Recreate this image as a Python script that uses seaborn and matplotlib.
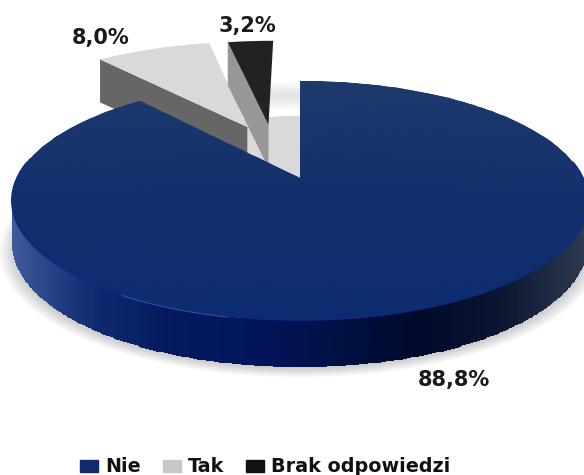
import matplotlib.pyplot as plt
from matplotlib.patches import Rectangle
from matplotlib.transforms import Affine2D, Transform
import numpy as np
import seaborn as sns

labels = ["Nie", "Tak", "Brak odpowiedzi"]
values = [88.8, 8.0, 3.2]
top_colors = ["#16306c", "#d9d9d9", "#222222"]
side_colors = ["#0a1f5c", "#666666", "#979797"]
legend_colors = ["#12296b", "#c8c8c8", "#111111"]
label_positions = [(454, 380), (101, 38), (247, 26)]

W, H = 584, 475
APEX_X, APEX_Y = 300, 178
C, A, K = 283, 115.3, 0.188
DEPTH = 47


def project(xy):
    xy = np.asarray(xy, dtype=float)
    w = 1 + K * xy[..., 1]
    return np.stack([APEX_X + C * xy[..., 0] / w, APEX_Y - A * xy[..., 1] / w], axis=-1)


class Perspective(Transform):
    input_dims = 2
    output_dims = 2

    def transform_non_affine(self, values):
        return project(values)


sns.set_theme(style="white")
plt.rcParams["font.family"] = ["DejaVu Sans"]

fig = plt.figure(figsize=(W / 100, H / 100), dpi=100)
ax = fig.add_axes([0, 0, 1, 1])

persp = Perspective()


def place(wedge, shift=0):
    wedge.set_transform(persp + Affine2D().translate(0, shift) + ax.transData)


# soft shadow under the disc
for r in np.linspace(1.04, 0.98, 8):
    shadow, _ = ax.pie([1], radius=r, colors=["#000000"], wedgeprops=dict(alpha=0.032, zorder=1, linewidth=0))
    place(shadow[0], 50)
    shadow[0].set_clip_path(Rectangle((0, 205), W, 168, transform=ax.transData))

# faint band behind the gap
for r, alpha in zip(np.arange(0.99, 0.70, -0.025),
                    [0.01, 0.02, 0.03, 0.04, 0.05, 0.05, 0.05, 0.05, 0.04, 0.03, 0.02, 0.01]):
    band, _ = ax.pie([values[0], values[1] + values[2]], startangle=90, counterclock=False, radius=r,
                     colors=["none", "#000000"], wedgeprops=dict(width=0.05, linewidth=0, alpha=alpha, zorder=1))
    place(band[0])
    place(band[1])

# light patch seen through the gap
gap, _ = ax.pie([values[0], values[1] + values[2]], startangle=90, counterclock=False, radius=0.6,
                colors=["none", "#d9d9d9"], wedgeprops=dict(linewidth=0, zorder=2))
place(gap[0])
place(gap[1])

# main faces, the two small slices are pulled out
wedges, _ = ax.pie(values, startangle=90, counterclock=False, colors=top_colors, wedgeprops=dict(linewidth=0))
wedges[1].set_center((-0.203, 0.4825))
wedges[2].set_center((-0.122, 0.503))
wedges[1].set_radius(1.04)
wedges[2].set_radius(1.03)
wedges[0].set_zorder(8)
wedges[1].set_zorder(4)
wedges[2].set_zorder(6)
for w in wedges:
    place(w)


def cut_face(wedge, color, zorder):
    cx, cy = wedge.center
    angle = np.radians(wedge.theta2)
    inner = project(np.array([cx, cy]))
    outer = project(np.array([cx + wedge.r * np.cos(angle), cy + wedge.r * np.sin(angle)]))
    ax.fill([inner[0], outer[0], outer[0], inner[0]],
            [inner[1], outer[1], outer[1] + DEPTH - 4, inner[1] + DEPTH - 4],
            color=color, lw=0, zorder=zorder)


cut_face(wedges[1], side_colors[1], 3)
cut_face(wedges[2], side_colors[2], 5)

# rim of the big slice, shaded left to right
rim_cmap = sns.blend_palette(["#3d5a9c", "#0f2a70", "#04185c", "#02155a", "#001043", "#000a2a", "#0b1630", "#2c3750"],
                             as_cmap=True)
theta = np.radians(np.linspace(172, 368, 261))
rim = project(np.stack([np.cos(theta), np.sin(theta)], axis=-1))
depth = DEPTH - 6 * (1 + np.sin(theta))
mesh_x = np.vstack([rim[:, 0], rim[:, 0]])
mesh_y = np.vstack([rim[:, 1], rim[:, 1] + depth])
ax.pcolormesh(mesh_x, mesh_y, ((mesh_x[0, :-1] + mesh_x[0, 1:]) / 2)[None, :], cmap=rim_cmap, vmin=12, vmax=584,
              shading="flat", zorder=7, linewidth=0, rasterized=True)
ax.plot(rim[:, 0], rim[:, 1], color="#0d2a80", lw=1.2, zorder=9)
glint = np.radians(np.linspace(238, 258, 30))
glint_xy = project(np.stack([np.cos(glint), np.sin(glint)], axis=-1))
ax.plot(glint_xy[:, 0], glint_xy[:, 1] + 1, color="#4a6cb8", lw=0.7, alpha=0.7, zorder=9)

# top of the big slice, slightly lighter towards the back
tt = np.radians(np.linspace(90, 90 - 360 * values[0] / sum(values), 240))
rr = np.linspace(0, 1, 30)
top_grid = project(np.stack([np.outer(rr, np.cos(tt)), np.outer(rr, np.sin(tt))], axis=-1))
top_cmap = sns.blend_palette(["#0d2c70", "#12306c", "#1e3a6c"], as_cmap=True)
ax.pcolormesh(top_grid[..., 0], top_grid[..., 1], top_grid[:-1, :-1, 1], cmap=top_cmap.reversed(), vmin=81, vmax=320,
              shading="flat", zorder=8.5, linewidth=0, antialiased=True, rasterized=True)

ax.set_aspect("auto")
ax.set_xlim(0, W)
ax.set_ylim(H, 0)
ax.axis("off")

for value, (px, py) in zip(values, label_positions):
    ax.text(px, py, f"{value:.1f}%".replace(".", ","), ha="center", va="center",
            fontsize=15, fontweight="bold", color="#1a1a1a", zorder=12)

handles = [Rectangle((0, 0), 1, 1, color=c) for c in legend_colors]
ax.legend(handles, labels, loc="center", bbox_to_anchor=(265 / W, 1 - 467 / H), ncol=3, frameon=False,
          prop=dict(size=13.8, weight="bold"), handlelength=0.95, handleheight=0.6, handletextpad=0.35,
          columnspacing=1.15, borderpad=0, labelcolor="#111111")

plt.savefig("out.png", dpi=100)
